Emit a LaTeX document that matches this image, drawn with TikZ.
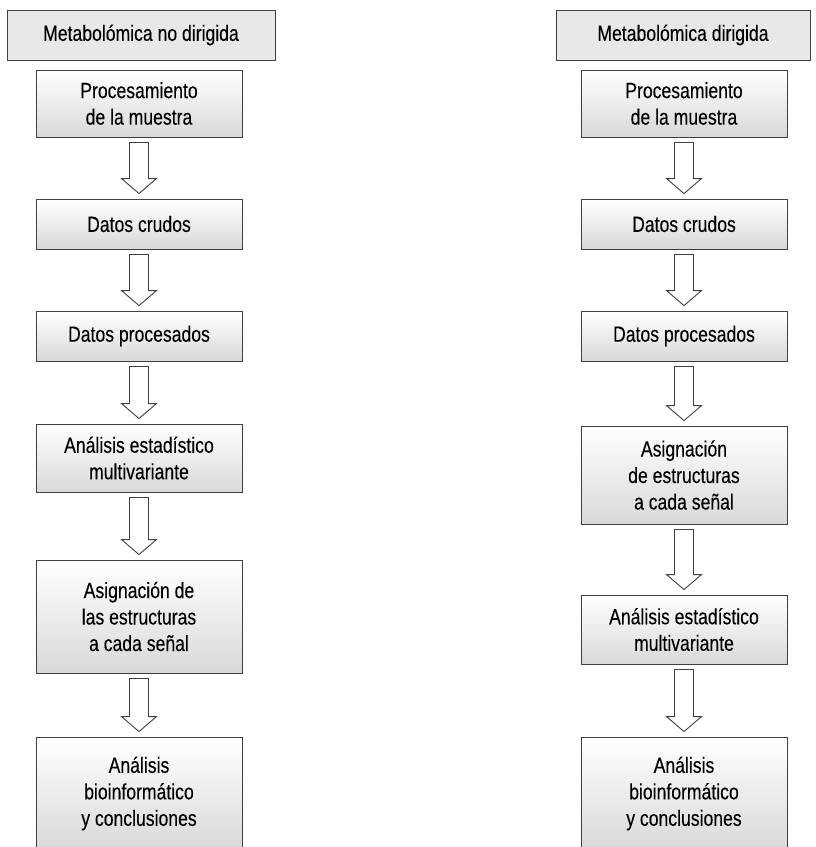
\documentclass[tikz,border=0pt]{standalone}
\usepackage{fontspec}
\setmainfont{Liberation Sans}[FakeStretch=0.8,FakeBold=0.15]
\usetikzlibrary{calc}

\tikzset{
  headbox/.style={draw=black!75,line width=0.9pt,fill=black!9,minimum height=50pt,inner sep=0pt},
  stepbox/.style={draw=black!75,line width=0.9pt,top color=white,bottom color=black!15,minimum width=206pt,align=center,inner sep=0pt},
  hollow/.style={draw=black!75,line width=0.9pt,fill=white,to path={
      let \p1=(\tikztostart.south), \p2=(\tikztotarget.north) in
      (\x1-9.5pt,\y1-5pt) -- (\x1-9.5pt,\y2+20pt) -- (\x1-17.5pt,\y2+20pt) -- (\x1,\y2+5pt)
      -- (\x1+17.5pt,\y2+20pt) -- (\x1+9.5pt,\y2+20pt) -- (\x1+9.5pt,\y1-5pt) -- cycle}}
}

\begin{document}
\begin{tikzpicture}[x=1pt,y=-1pt,font=\fontsize{22}{26.5}\selectfont]
  \useasboundingbox (0,0) rectangle (816,847);
  % no dirigida
  \node[headbox,minimum width=268pt] (lh) at (141,35) {Metabolómica no dirigida};
  \node[stepbox,minimum height=67pt] (lp) at (139,103.5) {Procesamiento\\de la muestra};
  \node[stepbox,minimum height=50pt] (lc) at (139,224) {Datos crudos};
  \node[stepbox,minimum height=50pt] (ld) at (139,336) {Datos procesados};
  \node[stepbox,minimum height=68pt] (le) at (139,458) {Análisis estadístico\\multivariante};
  \node[stepbox,minimum height=113pt] (la) at (139,616.5) {Asignación de\\las estructuras\\a cada señal};
  \node[stepbox,minimum height=113pt] (lb) at (139,793.5) {Análisis\\bioinformático\\y conclusiones};
  \draw[hollow] (lp) to (lc);
  \draw[hollow] (lc) to (ld);
  \draw[hollow] (ld) to (le);
  \draw[hollow] (le) to (la);
  \draw[hollow] (la) to (lb);

  % dirigida
  \node[headbox,minimum width=254pt] (rh) at (683,35) {Metabolómica dirigida};
  \node[stepbox,minimum height=67pt] (rp) at (684,103.5) {Procesamiento\\de la muestra};
  \node[stepbox,minimum height=50pt] (rc) at (684,224) {Datos crudos};
  \node[stepbox,minimum height=50pt] (rd) at (684,336) {Datos procesados};
  \node[stepbox,minimum height=98pt] (ra) at (684,475) {Asignación\\de estructuras\\a cada señal};
  \node[stepbox,minimum height=69pt] (re) at (684,629.5) {Análisis estadístico\\multivariante};
  \node[stepbox,minimum height=113pt] (rb) at (684,793.5) {Análisis\\bioinformático\\y conclusiones};
  \draw[hollow] (rp) to (rc);
  \draw[hollow] (rc) to (rd);
  \draw[hollow] (rd) to (ra);
  \draw[hollow] (ra) to (re);
  \draw[hollow] (re) to (rb);
\end{tikzpicture}
\end{document}
